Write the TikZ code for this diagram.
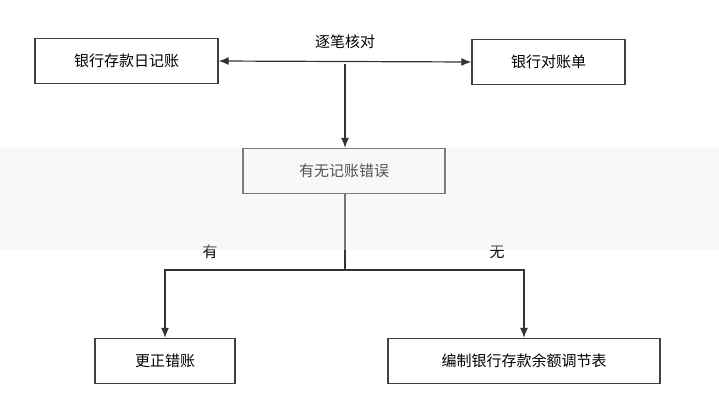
\documentclass[tikz,border=0pt]{standalone}
\usepackage{fontspec}
\setmainfont{Noto Sans CJK SC}
\usetikzlibrary{positioning,arrows.meta}
\tikzset{
  flowbox/.style={draw=black!75, line width=1.4pt, minimum height=45pt, inner sep=0pt, font=\fontsize{15}{18}\selectfont},
  flowline/.style={draw=black!80, line width=1.2pt},
  tip/.style={-{Latex[length=10pt,width=8pt]}},
  lbl/.style={font=\fontsize{15}{18}\selectfont}
}
\begin{document}
\begin{tikzpicture}[x=1pt,y=-1pt]
  \useasboundingbox (0,0) rectangle (719,400);
  \fill[white] (0,0) rectangle (719,400);
  % boxes
  \node [flowbox, minimum width=183pt] (journal) at (126.5, 61) {银行存款日记账};
  \node [flowbox, minimum width=153pt] (statement) at (548.5, 62) {银行对账单};
  \node [flowbox, minimum width=202pt] (check) at (344, 171) {有无记账错误};
  \node [flowbox, minimum width=140pt] (fix) at (165, 361) {更正错账};
  \node [flowbox, minimum width=272pt] (table) at (524, 361) {编制银行存款余额调节表};
  % labels
  \node [lbl] (cmp) at (345, 42) {逐笔核对};
  \node [lbl] (yes) at (210, 252) {有};
  \node [lbl] (no) at (497, 252) {无};
  \coordinate (mid) at (345, 64);
  \coordinate (fork) at (345, 270);
  % connectors
  \draw [flowline, {Latex[length=10pt,width=8pt]}-{Latex[length=10pt,width=8pt]}] (journal.east) -- (statement.west);
  \draw [flowline, tip] (mid) -- (mid |- check.north);
  \draw [flowline] (check.south -| fork) -- (fork);
  \draw [flowline, tip] (fork) -| (fix.north);
  \draw [flowline, tip] (fork) -| (table.north);
  % watermark band
  \fill [black!7, opacity=0.35] (0,148) rectangle (719,250);
\end{tikzpicture}
\end{document}
